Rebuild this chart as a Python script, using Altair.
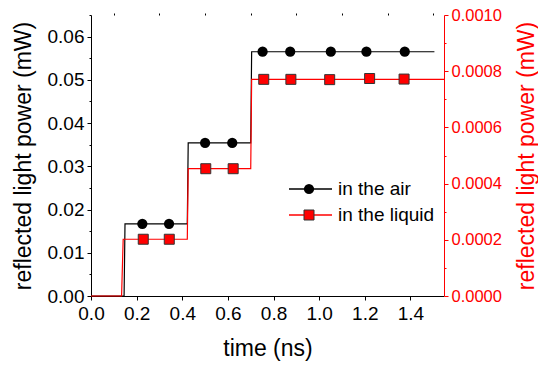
import altair as alt
import pandas as pd

# ---------------- data ----------------
air_line_time = [0.0, 0.145, 0.149, 0.422, 0.426, 0.700, 0.704, 1.505]
air_line_power = [0.0, 0.0, 0.0167, 0.0167, 0.0354, 0.0354, 0.0565, 0.0565]

liq_line_time = [0.0, 0.134, 0.141, 0.422, 0.426, 0.700, 0.704, 1.547]
liq_line_power = [0.0, 0.0, 0.000202, 0.000202, 0.000453, 0.000453, 0.000771, 0.000771]

air_mark_time = [0.225, 0.342, 0.500, 0.619, 0.752, 0.873, 1.051, 1.207, 1.375]
air_mark_power = [0.0167, 0.0167, 0.0354, 0.0354, 0.0565, 0.0565, 0.0565, 0.0565, 0.0565]

liq_mark_time = [0.229, 0.343, 0.503, 0.623, 0.757, 0.876, 1.046, 1.221, 1.372]
liq_mark_power = [0.000202, 0.000202, 0.000453, 0.000453, 0.000771, 0.000771, 0.000770, 0.000774, 0.000772]

legend_labels = ["in the air", "in the liquid"]

x_major = [0.0, 0.2, 0.4, 0.6, 0.8, 1.0, 1.2, 1.4]
x_minor = [0.1, 0.3, 0.5, 0.7, 0.9, 1.1, 1.3, 1.5]
l_major = [0.0, 0.01, 0.02, 0.03, 0.04, 0.05, 0.06]
l_minor = [0.005, 0.015, 0.025, 0.035, 0.045, 0.055, 0.065]
r_major = [0.0, 0.0002, 0.0004, 0.0006, 0.0008, 0.0010]
r_minor = [0.0001, 0.0003, 0.0005, 0.0007, 0.0009]

# ---------------- layout / style ----------------
FONT = "Liberation Sans"
W, H = 353, 281
XDOM = [0, 1.547]
LDOM = [0, 0.065]
RDOM = [0, 0.001]
RED = "#ff0000"

air_line = pd.DataFrame({"t": air_line_time, "p": air_line_power})
liq_line = pd.DataFrame({"t": liq_line_time, "p": liq_line_power})
air_mark = pd.DataFrame({"t": air_mark_time, "p": air_mark_power})
liq_mark = pd.DataFrame({"t": liq_mark_time, "p": liq_mark_power})
one = pd.DataFrame({"k": [0]})


def X(axis=None):
    return alt.X("t:Q", scale=alt.Scale(domain=XDOM, nice=False, zero=False), axis=axis)


def YL(axis=None):
    return alt.Y("p:Q", scale=alt.Scale(domain=LDOM, nice=False, zero=False), axis=axis)


def YR(axis=None):
    return alt.Y("p:Q", scale=alt.Scale(domain=RDOM, nice=False, zero=False), axis=axis)


x_axis_major = alt.Axis(values=x_major, format=".1f", tickSize=4, tickColor="black",
                        domainColor="black", labelColor="black", labelFont=FONT,
                        labelFontSize=19, labelPadding=4, labelFlush=False,
                        labelOverlap=False, grid=False,
                        title="time (ns)", titleFont=FONT, titleFontSize=23,
                        titleFontWeight="normal", titleColor="black", titlePadding=14)
x_axis_minor = alt.Axis(values=x_minor, tickSize=2, tickColor="black", domain=False,
                        labels=False, grid=False, title=None)

l_axis_major = alt.Axis(values=l_major, format=".2f", orient="left", tickSize=4,
                        tickColor="black", domainColor="black", labelColor="black",
                        labelFont=FONT, labelFontSize=19, labelPadding=3,
                        labelFlush=False, labelOverlap=False, grid=False,
                        title="reflected light power (mW)", titleFont=FONT,
                        titleFontSize=23, titleFontWeight="normal", titleColor="black",
                        titleAngle=-90, titleX=-61, titleY=H / 2, titleAlign="center",
                        titleBaseline="alphabetic")
l_axis_minor = alt.Axis(values=l_minor, orient="left", tickSize=2, tickColor="black",
                        domain=False, labels=False, grid=False, title=None)

r_axis_major = alt.Axis(values=r_major, format=".4f", orient="right", tickSize=4,
                        tickColor=RED, domainColor=RED, labelColor=RED,
                        labelFont=FONT, labelFontSize=16.5, labelPadding=3,
                        labelFlush=False, labelOverlap=False, grid=False,
                        title="reflected light power (mW)", titleFont=FONT,
                        titleFontSize=23, titleFontWeight="normal", titleColor=RED,
                        titleAngle=-90, titleX=89, titleY=H / 2, titleAlign="center",
                        titleBaseline="alphabetic")
r_axis_minor = alt.Axis(values=r_minor, orient="right", tickSize=2, tickColor=RED,
                        domain=False, labels=False, grid=False, title=None)

# ---------------- layers ----------------
air_step = alt.Chart(air_line).mark_line(color="black", strokeWidth=1.2).encode(
    x=X(x_axis_major), y=YL(l_axis_major))
air_minor = alt.Chart(air_line).mark_line(opacity=0).encode(
    x=X(x_axis_minor), y=YL(l_axis_minor))
air_pts = alt.Chart(air_mark).mark_point(shape="circle", filled=True, color="black",
                                         size=105, opacity=1).encode(x=X(), y=YL())

liq_step = alt.Chart(liq_line).mark_line(color=RED, strokeWidth=1.2).encode(
    x=X(), y=YR(r_axis_major))
liq_minor = alt.Chart(liq_line).mark_line(opacity=0).encode(
    x=X(), y=YR(r_axis_minor))
liq_pts = alt.Chart(liq_mark).mark_point(shape="square", filled=True, fill=RED,
                                         stroke="#333333", strokeWidth=1, size=100,
                                         opacity=1).encode(x=X(), y=YR())

# legend (drawn inside the plot area)
leg_air_line = alt.Chart(one).mark_rule(color="black", strokeWidth=1.5).encode(
    x=alt.value(198), x2=alt.value(241), y=alt.value(174))
leg_liq_line = alt.Chart(one).mark_rule(color=RED, strokeWidth=1.5).encode(
    x=alt.value(198), x2=alt.value(241), y=alt.value(200))
leg_air_pt = alt.Chart(one).mark_point(shape="circle", filled=True, color="black",
                                       size=105, opacity=1).encode(
    x=alt.value(218), y=alt.value(174))
leg_liq_pt = alt.Chart(one).mark_point(shape="square", filled=True, fill=RED,
                                       stroke="#333333", strokeWidth=1, size=100,
                                       opacity=1).encode(
    x=alt.value(218), y=alt.value(200))
leg_air_txt = alt.Chart(one).mark_text(text=legend_labels[0], font=FONT, fontSize=19,
                                       align="left", baseline="middle",
                                       color="black").encode(
    x=alt.value(247), y=alt.value(174))
leg_liq_txt = alt.Chart(one).mark_text(text=legend_labels[1], font=FONT, fontSize=19,
                                       align="left", baseline="middle",
                                       color="black").encode(
    x=alt.value(247), y=alt.value(200))

chart = alt.layer(
    air_step, air_minor, liq_step, liq_minor, air_pts, liq_pts,
    leg_air_line, leg_liq_line, leg_air_pt, leg_liq_pt, leg_air_txt, leg_liq_txt
).resolve_scale(
    x="independent", y="independent"
).properties(
    width=W, height=H,
    autosize=alt.AutoSizeParams(type="none"),
    padding={"left": 91, "top": 15, "right": 94, "bottom": 70},
    background="white",
).configure_view(strokeWidth=0)

chart.save("out.html", embed_options={"renderer": "svg", "actions": False})
